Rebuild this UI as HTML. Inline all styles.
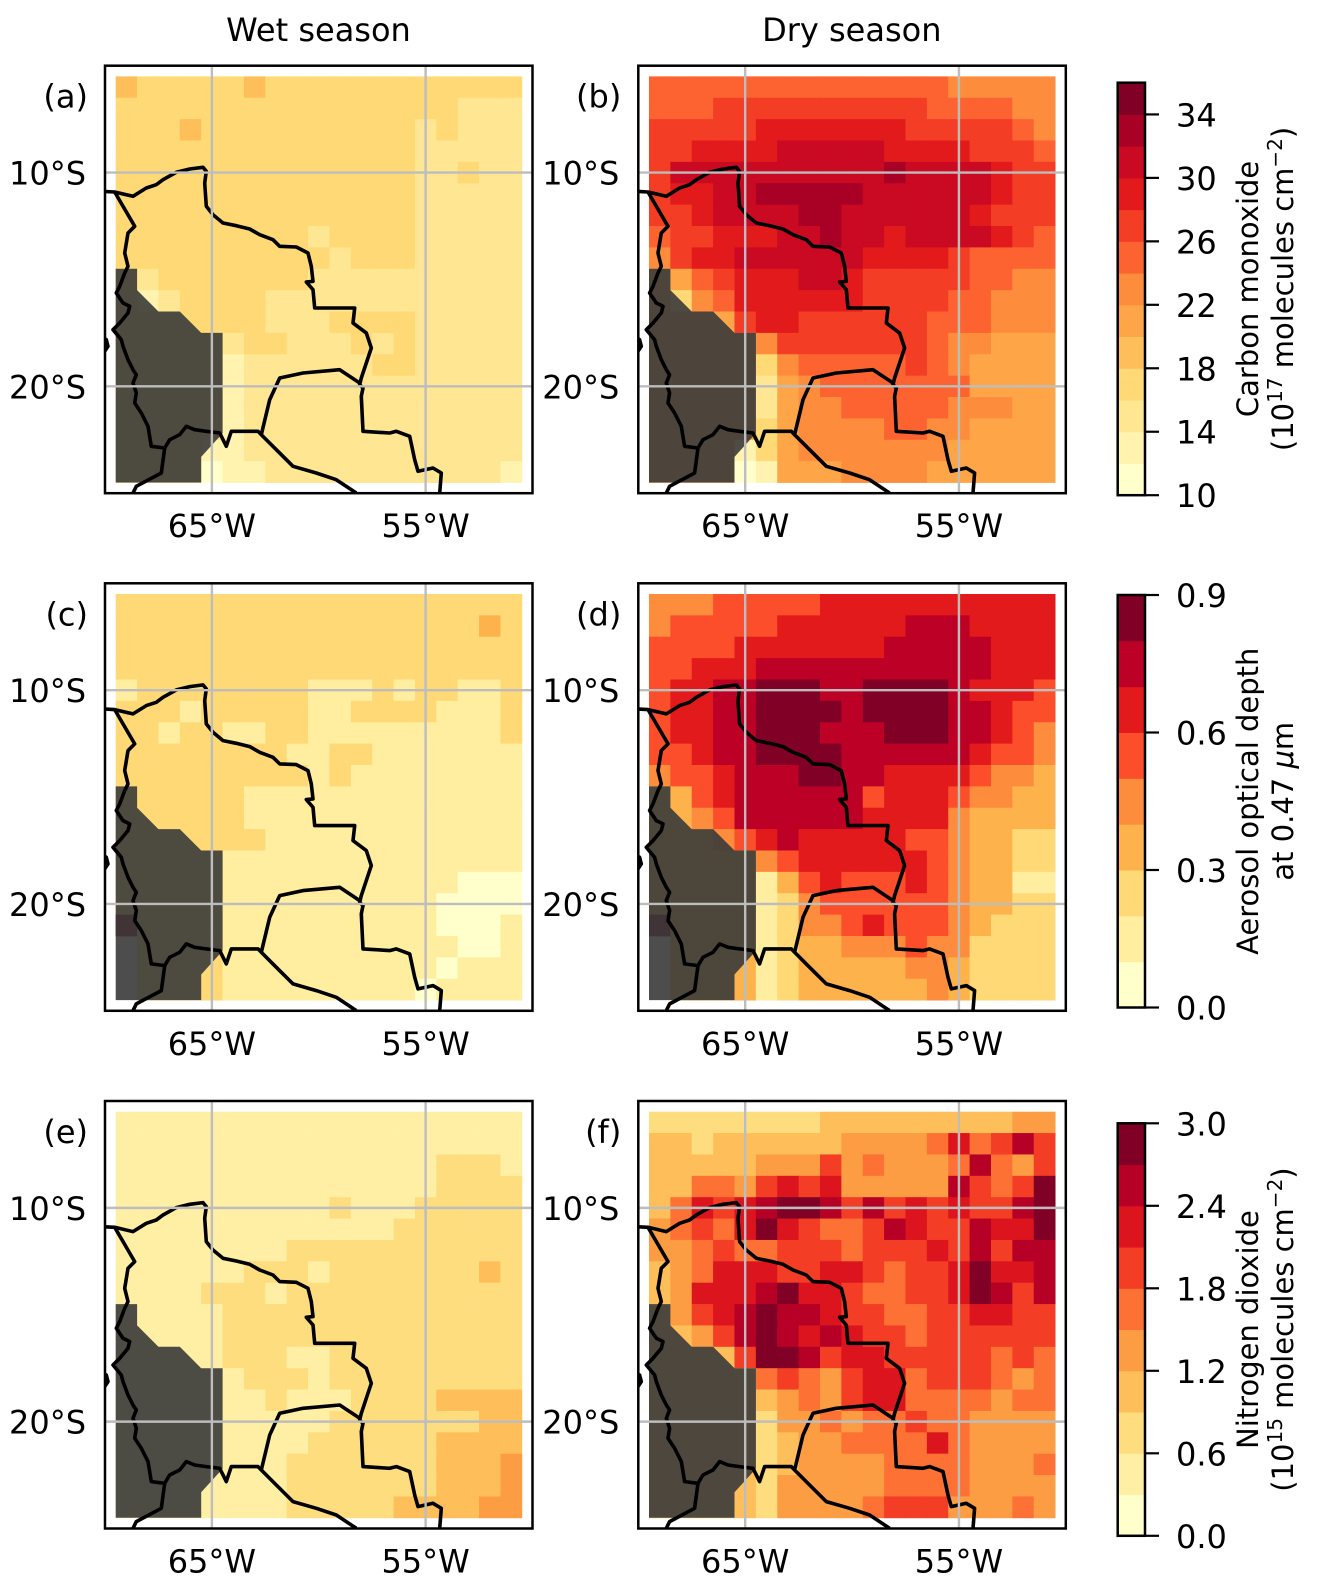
<!DOCTYPE html>
<html><head><meta charset="utf-8"><style>
html,body{margin:0;padding:0;background:#fff}
svg text{font-family:"DejaVu Sans","Liberation Sans",sans-serif;fill:#000}
</style></head><body>
<svg id="fig" width="1325" height="1591" viewBox="0 0 1325 1591" xmlns="http://www.w3.org/2000/svg"></svg>
<script>
// ---- data: colour-level index per grid cell (rows north->south, cols west->east), 'x' = missing
const coWet = ["4333334333333333333","3333333333333333222","3334333333333323222","3333333333333322222","3333333333333322322","3333333333333322222","3333333333333322222","3333333332333322222","3333333333233322222","3233333332222222222","3123333222222222222","3333333222333322222","3333323322232322222","3333312222223322222","3333312222222222222","3333312222222222222","3333312222222222222","3333112222222222222","3333011222222222221"];
const coDry = ["7777777777777766666","7778888888888777766","8888899999998888876","889999aaaaa99998887","8aaaaaaaaaabaaaa988","899aabbbbbaaaaaa988","889aaaabbaaaaaa9888","788999aabaa9aaaa987","6899aaaaaa999987777","5578999aa9888887766","5367999999888877666","5555899888888777666","5555568888888766555","5555536777778765555","5555525677777775555","5555525667777766655","5555535666677665555","5555135666666655555","5555015556666555555"];
const aodWet = ["2222222222222222222","2222222222222222232","2222222222222222222","2222222222222222222","1222222221112122112","2221222221122221112","2212211221111111112","2222222211221111111","2222222221211111111","2222221111111111111","2222221111111111111","2222222111111111111","2222211111111111111","2222211111111111000","2222211111111110000","8222211111111110001","x222211111111111001","x222211111111110111","x222211111111101111"];
const aodDry = ["4445555566666666666","4555556666667776666","5555666666677777666","5566677777777777666","5667788877888876665","5667788887888877655","5667788877788877654","5567788887777776554","4556777887766665443","3356777777566654433","3345777777666643333","3334567666665543322","3333345666666543322","3333313565556543311","3333312455555543322","8333312445655543222","x333312334445442222","x333312333334432222","x333312333333432222"];
const no2Wet = ["1111111111111111111","1111111111111111111","1111111111111112221","1111111111111112222","1111111111211122222","1111111111111222222","1111111122222222222","1111112221222222232","1111222122222222222","1111122222222222222","1111122222222222222","1111122211222222222","1111112221222222222","1111111211122223333","1111111111222222233","1111111112222223333","1111111122222223334","1111111122222223334","1111111122222333344"];
const no2Dry = ["2222222233333333344","3323333334444575686","3333344464544458546","3355467674444486569","3576789986867676689","4565797655687668779","4456556665666768688","3457776677656679778","3477789776556679868","3467898876655667766","3346898787665666666","3333699867766666565","3333356546775666545","3333334546775555455","3333324454556554444","3333323445555754444","3333323444455554445","3333324444455554444","3333324444566644454"];
// colorbar definitions
const coTicks = [10,14,18,22,26,30,34];
const aodTicks = ["0.0","0.3","0.6","0.9"];
const no2Ticks = ["0.0","0.6","1.2","1.8","2.4","3.0"];
const coRange = [10,36], aodRange=[0,0.9], no2Range=[0,3.0];
const coBins = 13, aodBins = 9, no2Bins = 10;
const gridLons = [-65,-55], gridLats = [-10,-20];

// ---- helpers
const NS="http://www.w3.org/2000/svg";
const svg=document.getElementById('fig');
function mk(tag,attrs,parent){const e=document.createElementNS(NS,tag);for(const k in attrs)e.setAttribute(k,attrs[k]);(parent||svg).appendChild(e);return e;}
const stops=["#ffffcc","#ffeda0","#fed976","#feb24c","#fd8d3c","#fc4e2a","#e31a1c","#bd0026","#800026"];
function hx(c){return [1,3,5].map(i=>parseInt(c.substr(i,2),16));}
function ylorrd(t){const p=t*8;const i=Math.min(7,Math.floor(p));const f=p-i;const a=hx(stops[i]),b=hx(stops[i+1]);return "rgb("+a.map((v,k)=>Math.round(v+(b[k]-v)*f)).join(",")+")";}
function levelColor(i,n){return ylorrd(i/(n-1));}

const DEG=21.375, PW=427.5;
const colX=[105,638.3], rowY=[65.7,583.3,1101];
function xS(x0,lon){return x0+(lon+70)*DEG;}
function yS(y0,lat){return y0+(-5-lat)*DEG;}

// Bolivia / neighbours border traces (panel-local, traced units)
const borderPaths=[
 [[-6,355],[35,357],[90,370],[130,345],[160,335],[180,320],[220,298],[260,288],[300,283],[310,295],[305,330],[310,400],[330,425],[360,450],[400,458],[440,468],[470,485],[510,500],[530,520],[580,522],[615,540],[625,580],[630,625],[610,627],[630,650],[635,705],[755,705],[750,750],[790,780],[805,825],[790,870],[775,915],[770,935],[780,945],[775,970],[780,1075],[860,1080],[880,1075],[920,1090],[935,1160],[945,1195],[990,1185],[1015,1200],[1010,1260]],
 [[35,357],[95,460],[75,480],[65,540],[75,580],[65,600],[50,640],[40,660],[60,690],[80,700],[75,720],[50,750],[30,770],[55,800],[60,820],[75,860],[90,890],[100,905],[90,930],[100,960],[95,990],[115,1020],[135,1060],[145,1120],[185,1125],[200,1100],[230,1085],[250,1060],[275,1070],[310,1075],[350,1080],[370,1120],[385,1075],[465,1075],[475,1085],[520,1130],[570,1180],[640,1200],[700,1220],[760,1260]],
 [[475,1085],[500,980],[530,915],[600,900],[710,890],[770,930]],
 [[185,1125],[175,1200],[100,1240],[90,1260]],
 [[-6,790],[10,800],[15,820],[5,835],[-6,840]]
];
const maskPoly=[[0,9],[1,9],[1,10],[2,11],[3,11],[4,12],[5,12],[5,16.7],[4,17.8],[4,19],[0,19]];

const panels=[
 {id:"a",data:coWet,bins:coBins,c:0,r:0},{id:"b",data:coDry,bins:coBins,c:1,r:0},
 {id:"c",data:aodWet,bins:aodBins,c:0,r:1},{id:"d",data:aodDry,bins:aodBins,c:1,r:1},
 {id:"e",data:no2Wet,bins:no2Bins,c:0,r:2},{id:"f",data:no2Dry,bins:no2Bins,c:1,r:2}
];

// column titles
let t=mk('text',{x:318.5,y:41,'font-size':32,'text-anchor':'middle'});t.textContent="Wet season";


t=mk('text',{x:851.8,y:41,'font-size':32,'text-anchor':'middle'});t.textContent="Dry season";



panels.forEach(p=>{
 const x0=colX[p.c], y0=rowY[p.r];
 const g=mk('g',{});
 
 
 const cp=mk('clipPath',{id:'clip'+p.id},g);mk('rect',{x:x0,y:y0,width:PW,height:PW},cp);
 const inner=mk('g',{'clip-path':'url(#clip'+p.id+')'},g);
 p.data.forEach((row,ri)=>{
  for(let ci=0;ci<row.length;ci++){
   const ch=row[ci]; if(ch==='x')continue;
   const lv=parseInt(ch,16);
   const lon=-69.5+ci, lat=-5.5-ri;
   const x=xS(x0,lon), y=yS(y0,lat);
   const r=mk('rect',{x:x,y:y,width:DEG+0.4,height:DEG+0.4,fill:levelColor(lv,p.bins)},inner);
   
   
  }
 });
 const pts=maskPoly.map(([c,r])=>(xS(x0,-69.5+c)).toFixed(1)+","+(yS(y0,-5.5-r)).toFixed(1)).join(" ");
 const m=mk('polygon',{points:pts,fill:'rgb(58,58,58)','fill-opacity':0.9},inner);
 
 
 borderPaths.forEach(path=>{
  const d=path.map(([zx,zy])=>(x0+zx/3-2).toFixed(1)+","+(y0+zy/3+7.3).toFixed(1)).join(" ");
  const l=mk('polyline',{points:d,fill:'none',stroke:'#000','stroke-width':3.6,'stroke-linejoin':'round'},inner);
  
  
 });
 gridLons.forEach(lon=>{const l=mk('line',{x1:xS(x0,lon),x2:xS(x0,lon),y1:y0,y2:y0+PW,stroke:'#bdbdbd','stroke-width':2.4},inner);
  
  });
 gridLats.forEach(lat=>{const l=mk('line',{x1:x0,x2:x0+PW,y1:yS(y0,lat),y2:yS(y0,lat),stroke:'#bdbdbd','stroke-width':2.4},inner);
  
  });
 const fr=mk('rect',{x:x0,y:y0,width:PW,height:PW,fill:'none',stroke:'#000','stroke-width':2.5},g);
 
 
 let lb=mk('text',{x:x0-17,y:y0+42,'font-size':32,'text-anchor':'end'},g);lb.textContent="("+p.id+")";
 
 
 gridLats.forEach(lat=>{const tx=mk('text',{x:x0-19,y:yS(y0,lat)+12,'font-size':32,'text-anchor':'end'},g);tx.textContent=(-lat)+"°S";
  
  });
 gridLons.forEach(lon=>{const tx=mk('text',{x:xS(x0,lon),y:y0+PW+44,'font-size':32,'text-anchor':'middle'},g);tx.textContent=(-lon)+"°W";
  
  });
});

const CBX=1117.7, CBW=27.3, CBH=412.5;
const cbs=[
 {top:82.7,bins:coBins,range:coRange,ticks:coTicks,l1:"Carbon monoxide",l2:["(10","17"," molecules cm","−2",")"],name:"co"},
 {top:595,bins:aodBins,range:aodRange,ticks:aodTicks,l1:"Aerosol optical depth",l2:null,name:"aod"},
 {top:1123.3,bins:no2Bins,range:no2Range,ticks:no2Ticks,l1:"Nitrogen dioxide",l2:["(10","15"," molecules cm","−2",")"],name:"no2"}
];
cbs.forEach(cb=>{
 const g=mk('g',{});
 
 
 const h=CBH/cb.bins;
 for(let i=0;i<cb.bins;i++){
  const r=mk('rect',{x:CBX,y:cb.top+CBH-(i+1)*h,width:CBW,height:h+0.5,fill:levelColor(i,cb.bins)},g);
  
  
 }
 mk('rect',{x:CBX,y:cb.top,width:CBW,height:CBH,fill:'none',stroke:'#000','stroke-width':2.5},g);
 const [lo,hi]=cb.range;
 cb.ticks.forEach(tv=>{
  const v=parseFloat(tv);const y=cb.top+CBH-(v-lo)/(hi-lo)*CBH;
  mk('line',{x1:CBX+CBW,x2:CBX+CBW+14,y1:y,y2:y,stroke:'#000','stroke-width':2.2},g);
  const tx=mk('text',{x:1176,y:y+12,'font-size':32},g);tx.textContent=String(tv);
  
  
 });
 const cy=cb.top+CBH/2;
 const t1=mk('text',{x:0,y:0,'font-size':29,'text-anchor':'middle',transform:`translate(1258,${cy}) rotate(-90)`},g);t1.textContent=cb.l1;
 
 
 const t2=mk('text',{x:0,y:0,'font-size':29,'text-anchor':'middle',transform:`translate(1293,${cy}) rotate(-90)`},g);
 
 
 if(cb.l2){
  const parts=cb.l2;
  mk('tspan',{},t2).textContent=parts[0];
  mk('tspan',{dy:-11,'font-size':20},t2).textContent=parts[1];
  mk('tspan',{dy:11},t2).textContent=parts[2];
  mk('tspan',{dy:-11,'font-size':20},t2).textContent=parts[3];
  mk('tspan',{dy:11},t2).textContent=parts[4];
 } else {
  mk('tspan',{},t2).textContent="at 0.47 ";
  mk('tspan',{'font-style':'italic'},t2).textContent="μ";
  mk('tspan',{},t2).textContent="m";
 }
});
</script>
</body></html>
